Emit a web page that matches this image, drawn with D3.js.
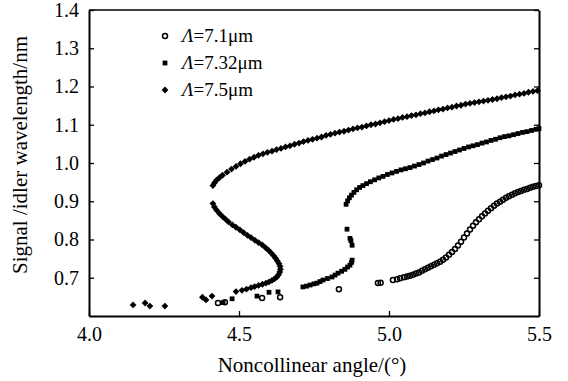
<!DOCTYPE html>
<html>
<head>
<meta charset="utf-8">
<script src="https://cdn.jsdelivr.net/npm/d3@7"></script>
<style>
  body { margin: 0; background: #fff; }
</style>
</head>
<body>
<div class="vis"></div>
<script>
// angle (deg), wavelength (um)
const series71 = [
  [4.43, 0.634], [4.453, 0.636], [4.577, 0.647], [4.637, 0.649], [4.833, 0.67],
  [4.963, 0.686], [4.972, 0.687], [5.013, 0.694], [5.027, 0.696],
  [5.037, 0.699], [5.05, 0.701], [5.06, 0.703], [5.07, 0.705], [5.08, 0.708],
  [5.09, 0.711], [5.1, 0.714], [5.11, 0.718], [5.12, 0.722], [5.13, 0.726],
  [5.14, 0.73], [5.15, 0.734], [5.16, 0.738], [5.17, 0.742], [5.18, 0.747],
  [5.19, 0.753], [5.2, 0.76], [5.21, 0.767], [5.22, 0.775], [5.23, 0.784],
  [5.24, 0.794], [5.25, 0.805], [5.26, 0.816], [5.27, 0.826], [5.28, 0.836],
  [5.29, 0.845], [5.3, 0.853], [5.31, 0.861], [5.32, 0.868], [5.33, 0.875],
  [5.34, 0.882], [5.35, 0.888], [5.36, 0.894], [5.37, 0.899], [5.38, 0.904],
  [5.39, 0.909], [5.4, 0.913], [5.41, 0.917], [5.42, 0.921], [5.43, 0.924],
  [5.44, 0.927], [5.45, 0.93], [5.46, 0.932], [5.47, 0.935], [5.48, 0.938],
  [5.49, 0.94], [5.5, 0.942]
];

const series732 = [
  [4.447, 0.635], [4.477, 0.645], [4.56, 0.652], [4.6, 0.662], [4.63, 0.663],
  [4.713, 0.676], [4.725, 0.678], [4.737, 0.681], [4.75, 0.684], [4.76, 0.686],
  [4.77, 0.69], [4.78, 0.694], [4.795, 0.698], [4.81, 0.702], [4.82, 0.707],
  [4.83, 0.712], [4.842, 0.717], [4.853, 0.722], [4.862, 0.728], [4.87, 0.733],
  [4.875, 0.74], [4.877, 0.746], [4.877, 0.785], [4.873, 0.797], [4.87, 0.803],
  [4.86, 0.827],
  [4.857, 0.892], [4.862, 0.901], [4.868, 0.909], [4.875, 0.916], [4.883, 0.923],
  [4.892, 0.93], [4.902, 0.936], [4.913, 0.941], [4.925, 0.946], [4.938, 0.951],
  [4.952, 0.956], [4.966, 0.961], [4.98, 0.965], [4.995, 0.97], [5.01, 0.974],
  [5.025, 0.978], [5.04, 0.982], [5.055, 0.985], [5.07, 0.988], [5.085, 0.992],
  [5.1, 0.996], [5.115, 1.0], [5.13, 1.005], [5.145, 1.009], [5.16, 1.013],
  [5.175, 1.018], [5.19, 1.022], [5.205, 1.026], [5.22, 1.03], [5.235, 1.034],
  [5.25, 1.038], [5.265, 1.042], [5.28, 1.045], [5.295, 1.048], [5.31, 1.052],
  [5.325, 1.055], [5.34, 1.059], [5.355, 1.062], [5.37, 1.066], [5.385, 1.069],
  [5.4, 1.071], [5.415, 1.074], [5.43, 1.077], [5.445, 1.08], [5.46, 1.082],
  [5.475, 1.085], [5.49, 1.088], [5.5, 1.09]
];

const series75 = [
  [4.147, 0.629], [4.187, 0.634], [4.203, 0.626], [4.253, 0.626],
  [4.378, 0.649], [4.39, 0.642], [4.41, 0.652],
  [4.49, 0.664], [4.51, 0.667], [4.525, 0.67], [4.54, 0.674], [4.552, 0.677],
  [4.565, 0.68], [4.578, 0.683], [4.59, 0.686], [4.6, 0.689], [4.61, 0.693],
  [4.618, 0.697], [4.626, 0.702], [4.632, 0.708], [4.636, 0.715], [4.638, 0.722],
  [4.637, 0.73], [4.633, 0.737], [4.628, 0.744], [4.622, 0.751], [4.615, 0.758],
  [4.607, 0.765], [4.598, 0.772], [4.588, 0.779], [4.577, 0.786], [4.565, 0.792],
  [4.553, 0.798], [4.54, 0.805], [4.528, 0.811], [4.515, 0.818], [4.503, 0.825],
  [4.49, 0.832], [4.478, 0.838], [4.465, 0.846], [4.455, 0.853], [4.445, 0.86],
  [4.435, 0.868], [4.425, 0.877], [4.418, 0.885], [4.413, 0.894],
  [4.413, 0.941], [4.418, 0.948], [4.425, 0.955], [4.435, 0.962], [4.445, 0.968],
  [4.46, 0.976], [4.475, 0.984], [4.49, 0.991], [4.505, 0.998], [4.52, 1.004],
  [4.535, 1.01], [4.55, 1.015], [4.565, 1.02], [4.58, 1.024], [4.595, 1.028],
  [4.61, 1.031], [4.625, 1.035], [4.64, 1.038], [4.655, 1.042], [4.67, 1.045],
  [4.685, 1.049], [4.7, 1.052], [4.715, 1.056], [4.73, 1.059], [4.745, 1.062],
  [4.76, 1.065], [4.775, 1.068], [4.79, 1.072], [4.805, 1.075], [4.82, 1.078],
  [4.835, 1.081], [4.85, 1.083], [4.865, 1.086], [4.88, 1.089], [4.895, 1.092],
  [4.91, 1.094], [4.925, 1.097], [4.94, 1.1], [4.955, 1.102], [4.97, 1.105],
  [4.985, 1.108], [5.0, 1.111], [5.015, 1.114], [5.03, 1.116], [5.045, 1.119],
  [5.06, 1.121], [5.075, 1.124], [5.09, 1.126], [5.105, 1.129], [5.12, 1.131],
  [5.135, 1.134], [5.15, 1.136], [5.165, 1.139], [5.18, 1.141], [5.195, 1.144],
  [5.21, 1.146], [5.225, 1.149], [5.24, 1.151], [5.255, 1.154], [5.27, 1.156],
  [5.285, 1.158], [5.3, 1.16], [5.315, 1.162], [5.33, 1.164], [5.345, 1.166],
  [5.36, 1.168], [5.375, 1.171], [5.39, 1.173], [5.405, 1.175], [5.42, 1.178],
  [5.435, 1.18], [5.45, 1.182], [5.465, 1.185], [5.48, 1.187], [5.495, 1.189]
];

const xTicks = [4.0, 4.5, 5.0, 5.5];
const yTicks = [0.7, 0.8, 0.9, 1.0, 1.1, 1.2, 1.3, 1.4];
const legendNames = ["7.1μm", "7.32μm", "7.5μm"];
const markerTypes = ["circle", "square", "diamond"];

const W = 568, H = 381;
const margin = { top: 10, right: 29, bottom: 65, left: 89 };
const serif = '"Liberation Serif"';

const svg = d3.select(".vis")
  .append("svg")
  .attr("width", W)
  .attr("height", H);

const x = d3.scaleLinear().domain([4.0, 5.5])
  .range([margin.left, W - margin.right]);
const y = d3.scaleLinear().domain([0.6, 1.4])
  .range([H - margin.bottom, margin.top]);

const squareSym = d3.symbol().type(d3.symbolSquare).size(23);
const diamondSym = d3.symbol().type(d3.symbolSquare).size(23); // rotated 45deg

const addMarker = (sel, type) => {
  if (type === "circle") {
    sel.append("circle").attr("r", 2.5)
      .attr("fill", "none").attr("stroke", "#000").attr("stroke-width", 1.5);
  } else if (type === "square") {
    sel.append("path").attr("d", squareSym).attr("fill", "#000");
  } else {
    sel.append("path").attr("d", diamondSym).attr("transform", "rotate(45)")
      .attr("fill", "#000");
  }
};

// markers
const drawMarkers = (data, type) => {
  svg.append("g")
    .selectAll("g").data(data).join("g")
    .attr("transform", d => `translate(${x(d[0])},${y(d[1])})`)
    .call(addMarker, type);
};
drawMarkers(series71, "circle");
drawMarkers(series732, "square");
drawMarkers(series75, "diamond");

// axes, ticks pointing inward
const styleAxis = (g) => {
  g.select(".domain").attr("stroke", "#000").attr("stroke-width", 2);
  g.selectAll(".tick line").attr("stroke", "#000").attr("stroke-width", 1.3);
  g.selectAll(".tick text").attr("fill", "#000")
    .style("font-family", serif).style("font-size", "20px");
};

svg.append("g")
  .attr("transform", `translate(0,${y(0.6)})`)
  .call(d3.axisBottom(x).tickValues(xTicks).tickFormat(d3.format(".1f"))
    .tickSizeInner(-5).tickSizeOuter(0).tickPadding(11))
  .call(styleAxis);

svg.append("g")
  .attr("transform", `translate(${x(4.0)},0)`)
  .call(d3.axisLeft(y).tickValues(yTicks).tickFormat(d3.format(".1f"))
    .tickSizeInner(-5).tickSizeOuter(0).tickPadding(10))
  .call(styleAxis);

svg.append("g")
  .attr("transform", `translate(${x(5.5)},0)`)
  .call(d3.axisRight(y).tickValues(yTicks).tickFormat("")
    .tickSizeInner(-5).tickSizeOuter(0))
  .call(styleAxis);

svg.append("line")
  .attr("x1", x(4.0)).attr("x2", x(5.5))
  .attr("y1", y(1.4)).attr("y2", y(1.4))
  .attr("stroke", "#000").attr("stroke-width", 1.6);

// axis titles
svg.append("text")
  .attr("x", (x(4.0) + x(5.5)) / 2 - 2)
  .attr("y", 372)
  .attr("text-anchor", "middle")
  .style("font-family", serif).style("font-size", "21px")
  .text("Noncollinear angle/(°)");

svg.append("text")
  .attr("transform", `translate(27,155) rotate(-90)`)
  .attr("text-anchor", "middle")
  .style("font-family", serif).style("font-size", "21px")
  .text("Signal /idler wavelength/nm");

// legend
const legend = svg.append("g");
legendNames.forEach((name, i) => {
  const ly = 36 + i * 27;
  legend.append("g").attr("transform", `translate(165,${ly})`)
    .call(addMarker, markerTypes[i]);
  const t = legend.append("text")
    .attr("x", 182).attr("y", ly + 6)
    .style("font-family", serif).style("font-size", "19px");
  t.append("tspan").attr("font-style", "italic").text("Λ");
  t.append("tspan").text("=" + name);
});
</script>
</body>
</html>
